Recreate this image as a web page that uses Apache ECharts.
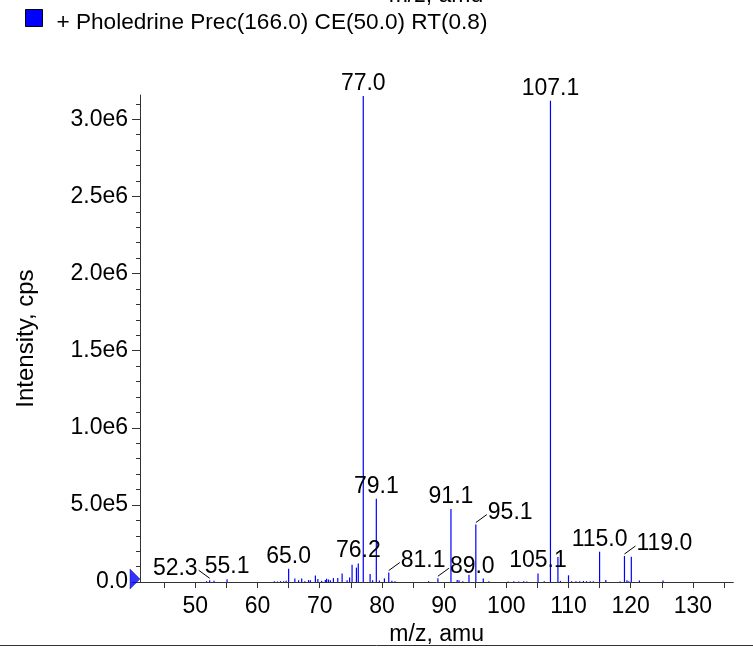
<!DOCTYPE html>
<html>
<head>
<meta charset="utf-8">
<script src="https://cdn.jsdelivr.net/npm/echarts@6/dist/echarts.min.js"></script>
<style>
html,body{margin:0;padding:0;background:#ffffff;}
#chart{width:753px;height:651px;}
</style>
</head>
<body>
<div id="chart"></div>
<script>
// ---------- data ----------
const seriesName = '+ Pholedrine Prec(166.0) CE(50.0) RT(0.8)';
const axisTitleX = 'm/z, amu';
const axisTitleY = 'Intensity, cps';

const mz = [
  51.8, 52.3, 53.0, 55.1,
  62.7, 63.2, 63.7, 64.2, 64.6, 65.0,
  66.0, 66.6, 67.1, 67.6, 68.2, 68.5, 69.3, 69.7, 70.3, 70.9,
  71.1, 71.4, 71.7, 72.2, 72.9, 73.6, 74.4, 74.8, 75.2, 75.9,
  76.2, 77.0, 78.1, 78.5, 79.1, 79.6, 80.4, 81.1, 81.6, 82.1,
  87.5, 89.0, 91.1, 92.1, 92.4, 93.0, 94.0, 95.1, 96.3, 97.2,
  100.3, 101.2, 102.0, 102.8, 103.3, 105.1, 106.1, 107.1, 108.3, 108.7,
  110.0, 110.5, 111.2, 111.8, 112.4, 112.9, 113.5, 114.0, 115.0, 116.0,
  118.3, 119.0, 119.4, 119.7, 120.1, 121.4, 125.2
];
const intensity = [
  6000, 12000, 8000, 19000,
  5000, 4000, 6000, 5000, 8000, 86000,
  24000, 12000, 24000, 6000, 13000, 12000, 42000, 20000, 8000, 14000,
  22000, 17000, 12000, 26000, 27000, 56000, 12000, 30000, 113000, 94000,
  121000, 3150000, 52000, 12000, 540000, 10000, 24000, 62000, 8000, 6000,
  6000, 25000, 474000, 14000, 12000, 5000, 47000, 373000, 24000, 6000,
  4000, 5000, 4000, 5000, 4000, 55000, 5000, 3120000, 163000, 8000,
  44000, 5000, 6000, 5000, 7000, 6000, 5000, 6000, 197000, 14000,
  4000, 169000, 12000, 5000, 165000, 10000, 10000
];

const peakLabels = ['52.3','55.1','65.0','76.2','77.0','79.1','81.1','89.0','91.1','95.1','105.1','107.1','115.0','119.0'];
const labelMz = [52.3, 55.1, 65.0, 76.2, 77.0, 79.1, 81.1, 89.0, 91.1, 95.1, 105.1, 107.1, 115.0, 119.0];

const xTicks = [45, 50, 55, 60, 65, 70, 75, 80, 85, 90, 95, 100, 105, 110, 115, 120, 125, 130, 135];
const xTickLabels = [50, 60, 70, 80, 90, 100, 110, 120, 130];
const yTicks = [0, 500000, 1000000, 1500000, 2000000, 2500000, 3000000];
const yTickLabels = ['0.0', '5.0e5', '1.0e6', '1.5e6', '2.0e6', '2.5e6', '3.0e6'];
const yMinorTicks = [100000, 200000, 300000, 400000, 600000, 700000, 800000, 900000,
  1100000, 1200000, 1300000, 1400000, 1600000, 1700000, 1800000, 1900000,
  2100000, 2200000, 2300000, 2400000, 2600000, 2700000, 2800000, 2900000, 3100000];

const xMin = 41.1, xMax = 136.5;
const yMin = 0, yMax = 3157000;

// ---------- layout / style (not data) ----------
const FONT = '"Liberation Sans", Arial, Helvetica, sans-serif';
const FS = 23;
const BLUE = '#0000ff';
const AXIS = '#333333';
// leader direction for labels that are moved aside (-1 left, 1 right)
const leaderSide = { '52.3': -1, '81.1': 1, '89.0': 1, '95.1': 1, '119.0': 1 };

const stickData = mz.map((m, i) => [m, intensity[i]]);
const labelData = labelMz.map(m => [m, intensity[mz.indexOf(m)]]);

const chart = echarts.init(document.getElementById('chart'), null, { renderer: 'canvas' });

const option = {
  backgroundColor: '#ffffff',
  animation: false,
  textStyle: { fontFamily: FONT },
  legend: {
    left: 25,
    top: 9,
    padding: 0,
    icon: 'rect',
    itemWidth: 17,
    itemHeight: 17,
    data: [seriesName],
    itemStyle: { borderColor: '#000', borderWidth: 1 },
    formatter: name => '{t|' + name + '}',
    textStyle: {
      fontSize: 22.6, color: '#000', fontFamily: FONT,
      rich: { t: { fontSize: 22.6, color: '#000', fontFamily: FONT, padding: [9, 0, 0, 9] } }
    },
    selectedMode: false
  },
  graphic: [
    { type: 'text', x: 436, y: -4, silent: true,
      style: { text: axisTitleX, fontSize: FS, fontFamily: FONT, fill: '#000', align: 'center', verticalAlign: 'middle' } },
    { type: 'line', silent: true,
      shape: { x1: 0, y1: 645.5, x2: 753, y2: 645.5 },
      style: { stroke: '#333', lineWidth: 1 } }
  ],
  grid: { left: 140, right: 19.7, top: 95, bottom: 66.4, containLabel: false },
  xAxis: {
    type: 'value',
    min: xMin, max: xMax,
    name: axisTitleX,
    nameLocation: 'middle',
    nameGap: 37,
    nameTextStyle: { fontSize: FS, color: '#000', fontFamily: FONT },
    axisLine: { show: true, lineStyle: { color: AXIS, width: 1 } },
    axisTick: { show: true, customValues: xTicks, length: 6, lineStyle: { color: AXIS } },
    axisLabel: { customValues: xTickLabels, fontSize: FS, color: '#000', margin: 13, fontFamily: FONT,
      formatter: v => String(Math.round(v)) },
    splitLine: { show: false }
  },
  yAxis: [
    {
      type: 'value',
      min: yMin, max: yMax,
      name: axisTitleY,
      nameLocation: 'middle',
      nameGap: 102,
      nameRotate: 90,
      nameTextStyle: { fontSize: 24, color: '#000', fontFamily: FONT },
      axisLine: { show: true, lineStyle: { color: AXIS, width: 1 } },
      axisTick: { show: true, customValues: yTicks, length: 8, lineStyle: { color: AXIS } },
      axisLabel: { customValues: yTicks, fontSize: FS, color: '#000', margin: 12, fontFamily: FONT,
        formatter: v => { const i = yTicks.indexOf(v); return i >= 0 ? yTickLabels[i] : ''; } },
      splitLine: { show: false }
    },
    {
      type: 'value',
      min: yMin, max: yMax,
      position: 'left',
      offset: 0,
      axisLine: { show: false },
      axisTick: { show: true, customValues: yMinorTicks, length: 4, lineStyle: { color: AXIS } },
      axisLabel: { show: false },
      splitLine: { show: false }
    }
  ],
  series: [
    {
      name: seriesName,
      type: 'custom',
      clip: true,
      itemStyle: { color: BLUE },
      data: stickData,
      renderItem: function (params, api) {
        const p0 = api.coord([api.value(0), 0]);
        const p1 = api.coord([api.value(0), api.value(1)]);
        return {
          type: 'rect',
          shape: { x: p0[0] - 0.6, y: p1[1], width: 1.2, height: p0[1] - p1[1] },
          style: { fill: BLUE, stroke: null }
        };
      },
      z: 2
    },
    {
      name: 'labels',
      type: 'custom',
      clip: false,
      silent: true,
      data: labelData,
      renderItem: function (params, api) {
        const text = peakLabels[params.dataIndex];
        const p = api.coord([api.value(0), api.value(1)]);
        const x = p[0];
        const side = leaderSide[text];
        if (!side) {
          return {
            type: 'text',
            style: { text: text, x: x, y: p[1] - 1, align: 'center', verticalAlign: 'bottom',
              fontSize: FS, fontFamily: FONT, fill: '#000' }
          };
        }
        const sx = x, sy = p[1] - 2;
        const ex = sx + side * 11, ey = sy - 8;
        return {
          type: 'group',
          children: [
            { type: 'line', shape: { x1: sx, y1: sy, x2: ex, y2: ey }, style: { stroke: '#000', lineWidth: 1 } },
            { type: 'text', style: { text: text, x: ex + side * 1, y: ey - 2,
              align: side > 0 ? 'left' : 'right', verticalAlign: 'middle',
              fontSize: FS, fontFamily: FONT, fill: '#000' } }
          ]
        };
      },
      z: 5
    },
    {
      name: 'baseline marker',
      type: 'scatter',
      clip: false,
      silent: true,
      data: [[xMin, 0]],
      symbol: 'triangle',
      symbolRotate: -90,
      symbolSize: [20, 10],
      symbolOffset: [-5, -3],
      itemStyle: { color: BLUE, borderColor: '#000066', borderWidth: 0.5 },
      z: 6
    }
  ]
};

chart.setOption(option);
</script>
</body>
</html>
